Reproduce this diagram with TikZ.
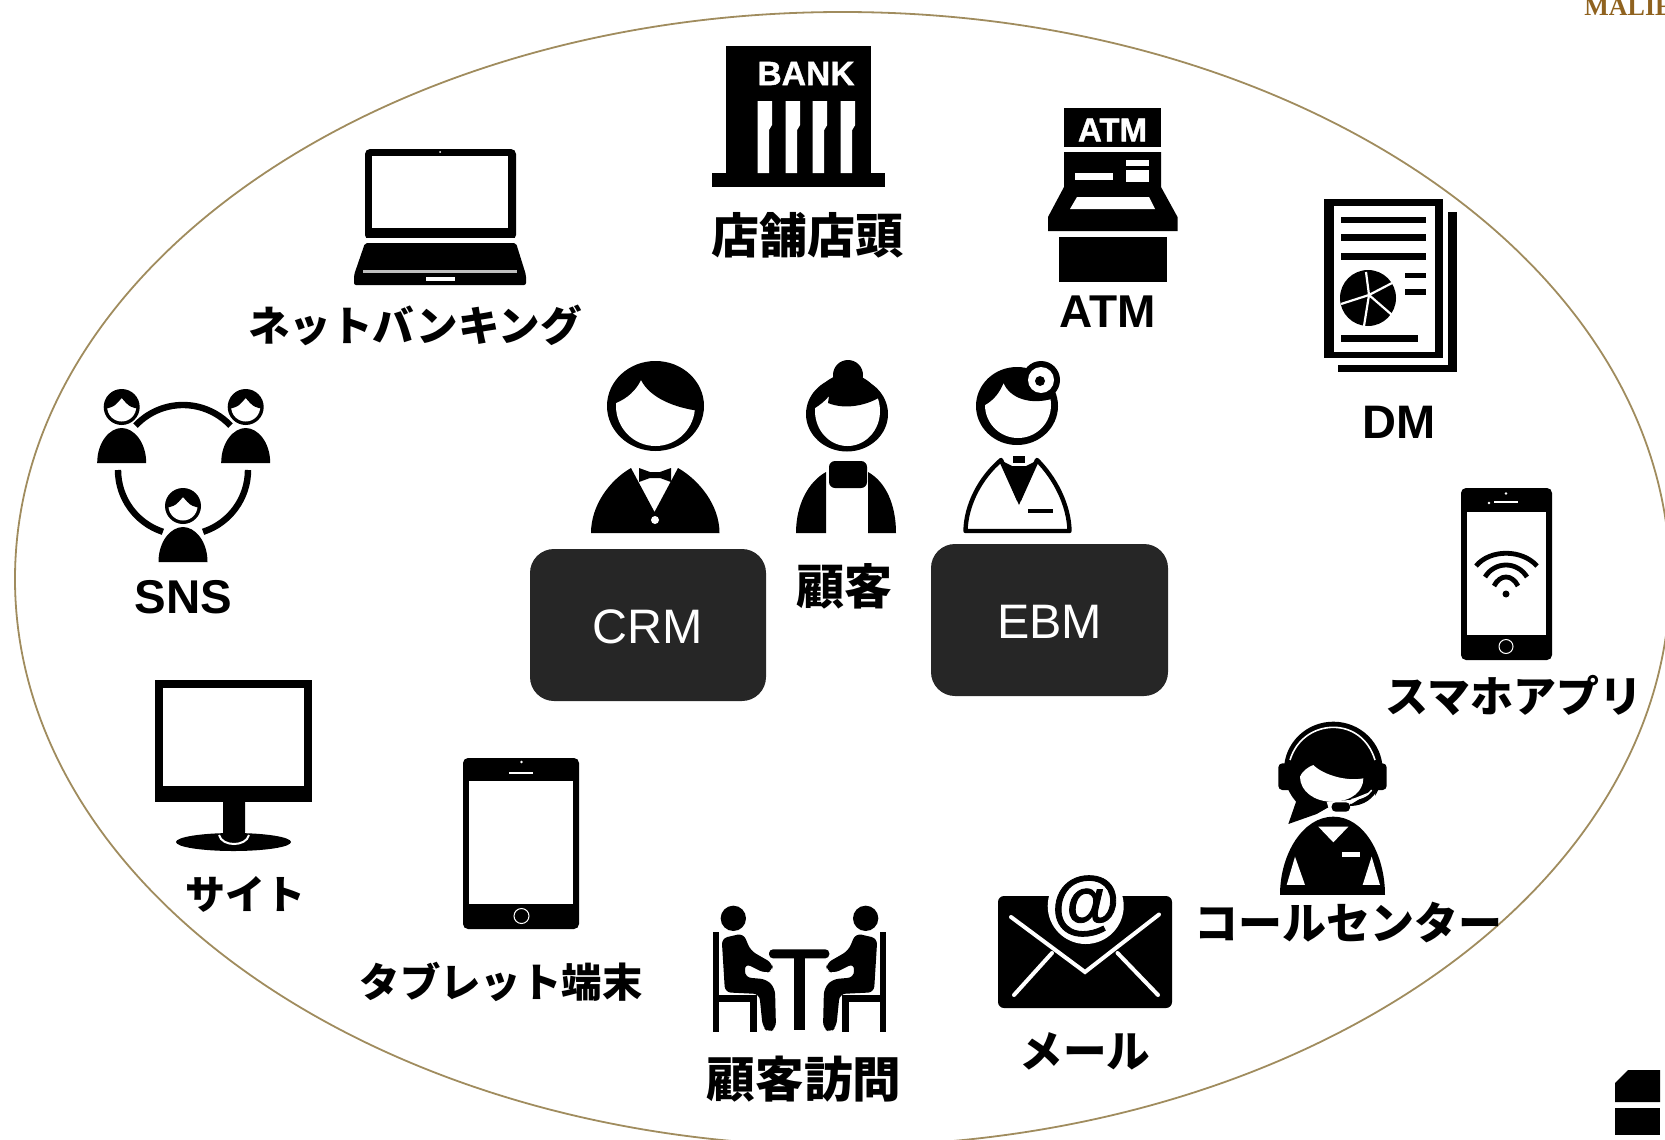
\documentclass[tikz,border=0pt]{standalone}
\usepackage{fontspec}
\setmainfont{Liberation Sans}
\newfontfamily\cjk{Noto Sans CJK JP}
\newfontfamily\seriff{Liberation Serif}
\newfontfamily\heavy[BoldFeatures={FakeBold=1.2}]{Liberation Sans}
\tikzset{
  blk/.style={fill=black,draw=none},
  wht/.style={fill=white,draw=none},
  wline/.style={draw=white,line cap=round},
  bline/.style={draw=black},
  lbl/.style={inner sep=0pt,text=black},
  lat/.style={inner sep=0pt,text=black},
  darkbox/.style={fill=boxdark,draw=none,rounded corners=12pt},
  boxlabel/.style={inner sep=0pt,text=white,font=\fontsize{24.2}{24}\selectfont},
}
\definecolor{boxdark}{HTML}{262626}
\definecolor{ringgold}{HTML}{A08C5E}
\definecolor{malie}{HTML}{8F621F}
\newcommand{\snsperson}[2]{%
  \begin{scope}[shift={(#1,#2)}]
    \fill[blk] (0,0) circle[radius=18];
    \fill[wht] (0,0) circle[radius=14.5];
    \begin{scope}
      \clip (0,0) circle[radius=16];
      \fill[blk] (-20,1) -- (-13,1) .. controls (-7,-1) .. (0,-9) .. controls (7,-1) .. (13,1) -- (20,1) -- (20,-20) -- (-20,-20) -- cycle;
    \end{scope}
    \fill[blk] (-24.5,56) .. controls (-24.5,35) and (-12,21) .. (0,21) .. controls (12,21) and (24.5,35) .. (24.5,56) -- cycle;
  \end{scope}}
\begin{document}
\begin{tikzpicture}[x=0.5pt,y=-0.5pt]
\useasboundingbox (0,0) rectangle (1665,1140);
\clip (0,0) rectangle (1665,1140);
% surrounding ellipse
\draw[ringgold,line width=0.9pt] (842.5,579) ellipse[x radius=827.5,y radius=567];
% brand fragments in corners
\node[inner sep=0pt,anchor=base west,text=malie,font=\seriff\bfseries\fontsize{13}{13}\selectfont] (brand) at (1584,15) {MALIE};
\fill[blk] (1615,1083) -- (1628,1070) -- (1660,1070) -- (1660,1102) -- (1615,1102) -- cycle;
\fill[blk] (1615,1108) rectangle (1660,1135);
% dark boxes
\fill[darkbox] (530,549) rectangle (766,701);
\fill[darkbox] (931,544) rectangle (1168,696);
\node[boxlabel] (crm) at (648,627) {CRM};
\node[boxlabel] (ebm) at (1049.5,622) {EBM};
% bank
\fill[blk] (726,46) rectangle (871,175);
\fill[blk] (712,173) rectangle (885,187);
\node[inner sep=0pt,text=white,font=\heavy\bfseries\fontsize{16.8}{17}\selectfont] (banktext) at (806,73.5) {BANK};
\foreach \xa in {757.5,785.6,812.7,840.7}{
  \fill[wht] (\xa,101) -- ++(14.5,0) -- ++(0,24) -- ++(-3,5) -- ++(0,43) -- ++(-11.5,0) -- cycle;
}
% atm
\fill[blk] (1064,108) rectangle (1161,147);
\node[inner sep=0pt,text=white,font=\heavy\bfseries\fontsize{16.5}{17}\selectfont] (atmtext) at (1112.5,130) {ATM};
\fill[blk] (1064,152) -- (1161,152) -- (1161,187) -- (1177.5,217) -- (1177.5,231) -- (1048,231) -- (1048,217) -- (1064,187) -- cycle;
\fill[wht] (1075,173) rectangle (1113,180);
\fill[wht] (1126,160) rectangle (1149,166);
\fill[wht] (1126,170) rectangle (1149,182);
\fill[wht] (1077,197) -- (1149,197) -- (1155,209) -- (1070,209) -- cycle;
\fill[blk] (1059,237) rectangle (1167,282);
% DM document
\fill[blk] (1448,212) rectangle (1456.5,372);
\fill[blk] (1338,365) rectangle (1456.5,372);
\fill[blk] (1324,199) rectangle (1443,358);
\fill[wht] (1334,206) rectangle (1435,352);
\fill[blk] (1341,217) rectangle (1426,223);
\fill[blk] (1341,234) rectangle (1426,241);
\fill[blk] (1341,253) rectangle (1426,260);
\fill[blk] (1404.5,273) rectangle (1426,278);
\fill[blk] (1404.5,289) rectangle (1426,295);
\fill[blk] (1341,335) rectangle (1418,342);
\fill[blk] (1368,298) ellipse[x radius=28,y radius=28];
\foreach \ex/\ey in {1392/283,1392/315,1364/326,1341/304,1366/272}{
  \draw[white,line width=1.1pt] (1369,295) -- (\ex,\ey);
}
% laptop
\fill[blk,rounded corners=2.5pt] (365,149) rectangle (516,240);
\fill[wht] (372,156) rectangle (508,228);
\fill[wht] (440,152) circle[radius=1];
\fill[wht] (355,237.5) rectangle (526,242.5);
\fill[blk,rounded corners=1pt] (365,243) -- (516,243) -- (526,275) -- (526,285) -- (354,285) -- (354,275) -- cycle;
\fill[gray!50] (363,270) rectangle (517,273);
\fill[wht] (426,277) rectangle (455,281);
% SNS
\draw[bline,line width=3.2pt] (183,470) ++(223:65) arc[start angle=223,end angle=317,radius=65];
\draw[bline,line width=3.2pt] (183,470) ++(180:65) arc[start angle=180,end angle=108,radius=65];
\draw[bline,line width=3.2pt] (183,470) ++(0:65) arc[start angle=0,end angle=72,radius=65];
\snsperson{121.7}{407}
\snsperson{245.7}{407}
\snsperson{183}{506}
% monitor
\fill[blk] (155,680) rectangle (311.6,802);
\fill[wht] (163,688) rectangle (304,786);
\fill[blk] (233.5,842) ellipse[x radius=57.5,y radius=9];
\draw[white,line width=1pt] (219,835) .. controls (222,847) and (246,847) .. (249,835);
\fill[blk] (223,802) -- (245,802) -- (245,832) .. controls (245,844) and (223,844) .. (223,832) -- cycle;
% tablet
\fill[blk,rounded corners=2.5pt] (463,758) rectangle (579,929);
\fill[wht] (469,781) rectangle (573,904);
\draw[white,line width=0.5pt] (521.5,916) circle[radius=7.5];
\fill[wht] (509,772) rectangle (533,774);
\fill[wht] (521.5,762) circle[radius=1.4];
% visit
\begin{scope}[shift={(700,880)},scale=0.3333]
  \fill[blk] (100,115) circle[radius=38];
  \fill[blk] (497,115) circle[radius=38];
  \foreach \m in {0,1}{
  \begin{scope}[shift={(\m*597,0)},xscale=1-2*\m]
    \fill[blk] (40,155) rectangle (58,455);
    \fill[blk] (58,345) rectangle (170,365);
    \fill[blk] (150,365) rectangle (170,455);
    \fill[blk,rounded corners=3pt] (65,175) -- (130,160) -- (152,212) -- (218,250) -- (218,272) -- (195,280) -- (135,250) -- (135,292) -- (200,298) -- (225,325) -- (228,445) -- (205,458) -- (188,440) -- (178,342) -- (75,337) -- cycle;
  \end{scope}}
  \fill[blk,rounded corners=2pt] (207,208) rectangle (388,235);
  \fill[blk] (283,235) rectangle (315,450);
\end{scope}
% mail
\fill[blk,rounded corners=3pt] (998,896) rectangle (1172,1008);
\draw[wline,line width=2pt] (1011,917) -- (1085,972) -- (1159,914.5);
\draw[wline,line width=2pt] (1052,953) -- (1014,995);
\draw[wline,line width=2pt] (1117.5,953) -- (1158,995);
\fill[wht] (1085.7,906) circle[radius=38];
\node[inner sep=0pt,text=black,font=\heavy\bfseries\fontsize{35}{35}\selectfont] (atsign) at (1085.7,906) {@};
% call centre
\begin{scope}[shift={(1260,710)},scale=0.3333]
  \fill[blk] (220,180) ellipse[x radius=148,y radius=145];
  \fill[blk,rounded corners=2pt] (55,160) rectangle (115,240);
  \fill[blk,rounded corners=2pt] (325,160) rectangle (380,240);
  \draw[white,line width=0.8pt] (90,150) .. controls (110,85) and (165,52) .. (220,52) .. controls (275,52) and (325,85) .. (345,150);
  \fill[wht] (75,345) -- (75,275) -- (125,300) -- (205,292) -- (345,300) -- (345,345) -- cycle;
  \fill[blk] (122,235) -- (85,342) -- (170,312) -- (205,292) -- (170,270) -- cycle;
  \fill[wht] (120,200) .. controls (125,185) and (145,170) .. (160,165) .. controls (190,195) and (260,215) .. (310,205) .. controls (310,240) and (280,275) .. (215,275) .. controls (165,275) and (120,245) .. (120,200) -- cycle;
  \fill[wht] (270,270) -- (345,240) -- (345,310) -- (210,310) -- (200,275) -- cycle;
  \fill[blk,rounded corners=2pt] (215,277) rectangle (270,305);
  \draw[blk,draw=black,line width=1pt] (270,285) .. controls (310,285) and (340,262) .. (350,235);
  \draw[white,line width=0.7pt] (275,268) .. controls (300,268) and (325,258) .. (335,240);
  \fill[blk] (60,555) .. controls (60,430) and (130,320) .. (220,320) .. controls (310,320) and (375,430) .. (375,555) -- cycle;
  \fill[wht] (175,350) -- (265,350) -- (220,397) -- cycle;
  \fill[wht] (245,425) rectangle (300,440);
  \fill[wht] (105,440) -- (135,525) -- (80,525) -- cycle;
  \fill[wht] (335,440) -- (360,525) -- (308,525) -- cycle;
\end{scope}
% phone
\fill[blk,rounded corners=2.5pt] (1461,488) rectangle (1552,660);
\fill[wht] (1467,511.5) rectangle (1546,634.5);
\draw[white,line width=0.5pt] (1506,646.5) circle[radius=7];
\fill[wht] (1494,501) rectangle (1518,503);
\fill[wht] (1506,493.5) circle[radius=1.4];
\fill[wht] (1489,503) circle[radius=1.4];
\fill[blk] (1506,594) circle[radius=3.5];
\draw[bline,line width=2.4pt] (1476,566) .. controls (1490,549) and (1522,549) .. (1537,566);
\draw[bline,line width=2.4pt] (1485,577) .. controls (1495,561) and (1517,561) .. (1527,577);
\draw[bline,line width=2.4pt] (1494,586) .. controls (1500,574) and (1512,574) .. (1518,586);
% central persons
% person 1
\fill[blk] (655.5,406) ellipse[x radius=48.5,y radius=45];
\fill[wht] (655.5,406) ellipse[x radius=39.5,y radius=40];
\begin{scope}
  \clip (655.5,406) ellipse[x radius=42,y radius=42];
  \fill[blk] (610,403) -- (616,403) .. controls (628,398) and (636,390) .. (641,380) .. controls (650,398) and (675,408) .. (700,411) -- (700,355) -- (610,355) -- cycle;
\end{scope}
\fill[blk] (591,533) .. controls (591,505) and (610,480) .. (631,468) -- (654.5,512) -- (678,468) .. controls (699,480) and (719.5,505) .. (719.5,533) -- cycle;
\fill[blk] (639,468) -- (650,472) -- (660,472) -- (671,468) -- (671,482) -- (660,478) -- (650,478) -- (639,482) -- cycle;
\fill[wht] (655,520) circle[radius=4];
% person 2
\fill[blk] (848,375) circle[radius=15];
\fill[blk] (847,414) ellipse[x radius=41,y radius=37.5];
\fill[wht] (847.5,411) ellipse[x radius=32.5,y radius=35];
\begin{scope}
  \clip (847.5,411) ellipse[x radius=35,y radius=37];
  \fill[blk] (810,408) -- (815,408) .. controls (820,405) and (826,400) .. (829,396) -- (828,403) .. controls (845,410) and (868,406) .. (885,394) -- (890,370) -- (810,370) -- cycle;
\end{scope}
\fill[blk,rounded corners=3pt] (829,461) rectangle (867,488);
\fill[blk] (796,533) .. controls (796,505) and (808,482) .. (826,472) -- (826,533) -- cycle;
\fill[blk] (896,533) .. controls (896,505) and (886,482) .. (868,472) -- (868,533) -- cycle;
% person 3
\fill[blk] (1017,406) ellipse[x radius=41,y radius=39];
\fill[wht] (1018,405) circle[radius=33];
\begin{scope}
  \clip (1018,405) circle[radius=35];
  \fill[blk] (980,405) -- (985,405) .. controls (994,400) and (1000,392) .. (1003.5,383) .. controls (1010,398) and (1030,406) .. (1055,398) -- (1055,365) -- (980,365) -- cycle;
\end{scope}
\fill[blk] (1041,380) circle[radius=19];
\fill[wht] (1041,380) circle[radius=13];
\fill[blk] (1040,381) circle[radius=5];
\draw[bline,fill=white,line width=2.2pt,line join=round] (965.5,531) .. controls (966,505) and (980,478) .. (1001,460) -- (1019,500) -- (1037,460) .. controls (1055,478) and (1069,505) .. (1069.5,531) -- cycle;
\fill[blk] (1000,460) -- (1012,466) -- (1026,466) -- (1038,460) -- (1019,505) -- cycle;
\fill[blk] (1013,456) rectangle (1025,463);
\fill[blk] (1028,509) rectangle (1052.5,513);
% labels
\node[lbl,font=\cjk\bfseries\fontsize{24}{24}\selectfont] (kokyaku) at (844,586) {顧客};
\node[lbl,font=\cjk\bfseries\fontsize{24}{24}\selectfont] (tenpo) at (807,235) {店舗店頭};
\node[lat,font=\bfseries\fontsize{23}{23}\selectfont] (atm) at (1108,312) {ATM};
\node[lat,font=\bfseries\fontsize{23.5}{24}\selectfont] (dm) at (1399,422) {DM};
\node[lat,font=\bfseries\fontsize{23.7}{24}\selectfont] (sns) at (183.5,597) {SNS};
\node[lbl,font=\cjk\bfseries\fontsize{20.8}{24}\selectfont] (netbank) at (415,325) {ネットバンキング};
\node[lbl,font=\cjk\bfseries\fontsize{20}{24}\selectfont] (site) at (245,894) {サイト};
\node[lbl,font=\cjk\bfseries\fontsize{20.2}{24}\selectfont] (tablet) at (501,982) {タブレット端末};
\node[lbl,font=\cjk\bfseries\fontsize{24.3}{24}\selectfont] (houmon) at (804,1079) {顧客訪問};
\node[lbl,font=\cjk\bfseries\fontsize{21.8}{24}\selectfont] (mail) at (1085,1051) {メール};
\node[lbl,font=\cjk\bfseries\fontsize{22}{24}\selectfont] (call) at (1348,923) {コールセンター};
\node[lbl,font=\cjk\bfseries\fontsize{21.5}{24}\selectfont] (app) at (1514,696) {スマホアプリ};
\end{tikzpicture}
\end{document}
